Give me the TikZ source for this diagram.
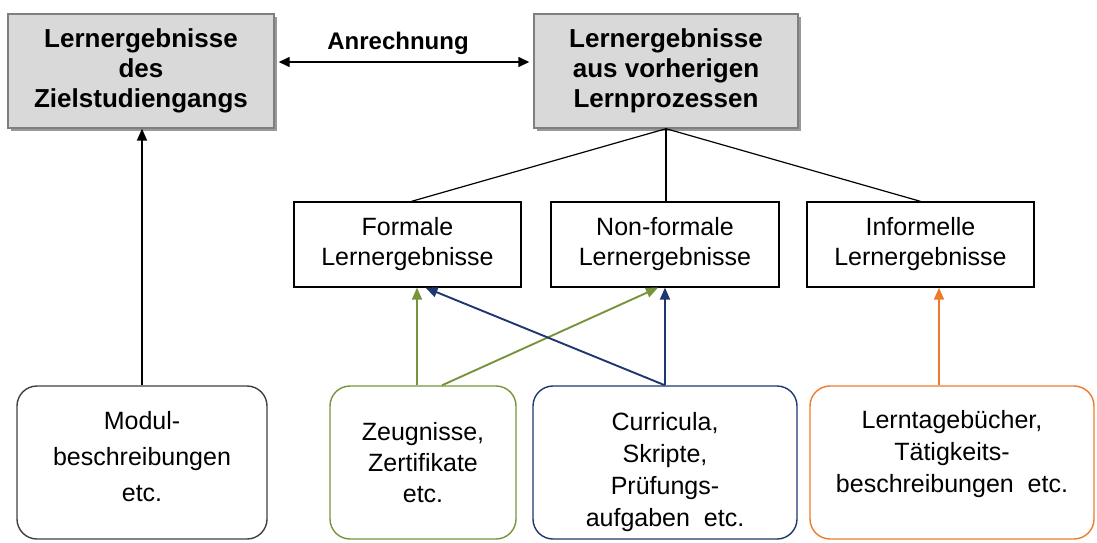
\documentclass[tikz,border=0pt]{standalone}
\usepackage{fontspec}
\setmainfont{Liberation Sans}
\usetikzlibrary{arrows.meta,calc,shadows}
\definecolor{boxgray}{HTML}{D9D9D9}
\definecolor{bordergray}{HTML}{7F7F7F}
\definecolor{ogreen}{HTML}{77933C}
\definecolor{oblue}{HTML}{1F3770}
\definecolor{oorange}{HTML}{EC7C2C}
\definecolor{modgray}{HTML}{404040}
\begin{document}
\begin{tikzpicture}[x=1pt,y=-1pt,
  topbox/.style={draw=bordergray, line width=1.4pt, fill=boxgray, inner sep=0pt,
    minimum height=114pt, align=center,
    font=\fontsize{26}{30}\selectfont\bfseries,
    drop shadow={shadow xshift=3pt, shadow yshift=-3pt, fill=black!40, opacity=1}},
  midbox/.style={draw=black, line width=1.3pt, fill=white, inner sep=0pt,
    minimum width=227pt, minimum height=85pt, align=center,
    font=\fontsize{25}{30}\selectfont},
  srcbox/.style={draw=#1, line width=1.4pt, rounded corners=20pt, inner sep=0pt,
    minimum height=153pt, align=center,
    font=\fontsize{25}{33}\selectfont},
  tree/.style={draw=black, line width=1.2pt},
  arr/.style={line width=1.9pt, -{Triangle[length=12pt,width=10pt]}},
]
\useasboundingbox (0,0) rectangle (1097,543);

% top boxes
\node[topbox, minimum width=266pt] (tl) at (141,71) {Lernergebnisse\\des\\Zielstudiengangs};
\node[topbox, minimum width=264pt] (tr) at (666,71) {Lernergebnisse\\aus vorherigen\\Lernprozessen};

% Anrechnung
\node[font=\fontsize{24}{28}\selectfont\bfseries] (anr) at (398,43) {Anrechnung};
\draw[line width=1.4pt, {Triangle[length=11pt,width=10pt]}-{Triangle[length=11pt,width=10pt]},
  shorten <=4pt, shorten >=4pt] ([yshift=9pt]tl.east) -- ([yshift=9pt]tr.west);

% middle boxes
\node[midbox] (f) at (407.5,244.5) {Formale\\Lernergebnisse};
\node[midbox, minimum width=228pt] (nf) at (665,244.5) {Non-formale\\Lernergebnisse};
\node[midbox] (inf) at (920.5,244.5) {Informelle\\Lernergebnisse};

\coordinate (fT) at ([xshift=4pt]f.north);
\draw[tree] (tr.south) -- (fT);
\draw[tree] (tr.south) -- (tr.south |- nf.north);
\draw[tree] (tr.south) -- (inf.north);

% bottom boxes
\node[srcbox=modgray, minimum width=250pt, font=\fontsize{25}{36}\selectfont] (m) at (142,462.5)
  {Modul-\\beschreibungen\\etc.\\[-24pt]\mbox{}};
\node[srcbox=ogreen, minimum width=186pt, font=\fontsize{25}{31}\selectfont] (g) at (423,462.5)
  {Zeugnisse,\\Zertifikate\\etc.};
\node[srcbox=oblue, minimum width=264pt, font=\fontsize{25}{32}\selectfont] (b) at (665,462.5)
  {\rule{0pt}{38pt}Curricula,\\Skripte,\\Prüfungs-\\aufgaben\ \ etc.};
\node[srcbox=oorange, minimum width=284pt, font=\fontsize{25}{32}\selectfont] (o) at (952,462.5)
  {Lerntagebücher,\\Tätigkeits-\\beschreibungen\ \ etc.\\[-10pt]\mbox{}};

% connectors
\draw[arr, black] (m.north) -- (m.north |- tl.south);

\coordinate (gA) at ([xshift=-6pt]g.north);
\coordinate (gB) at ([xshift=19pt]g.north);
\coordinate (fB) at ([xshift=18pt]f.south);
\coordinate (nfG) at ([xshift=-7pt]nf.south);
\draw[arr, ogreen] (gA) -- (gA |- f.south);
\draw[arr, ogreen] (gB) -- (nfG);
\draw[arr, oblue] (b.north) -- (fB);
\draw[arr, oblue] (b.north) -- (b.north |- nf.south);

\coordinate (oA) at ([xshift=-13pt]o.north);
\draw[arr, oorange] (oA) -- (oA |- inf.south);
\end{tikzpicture}
\end{document}
